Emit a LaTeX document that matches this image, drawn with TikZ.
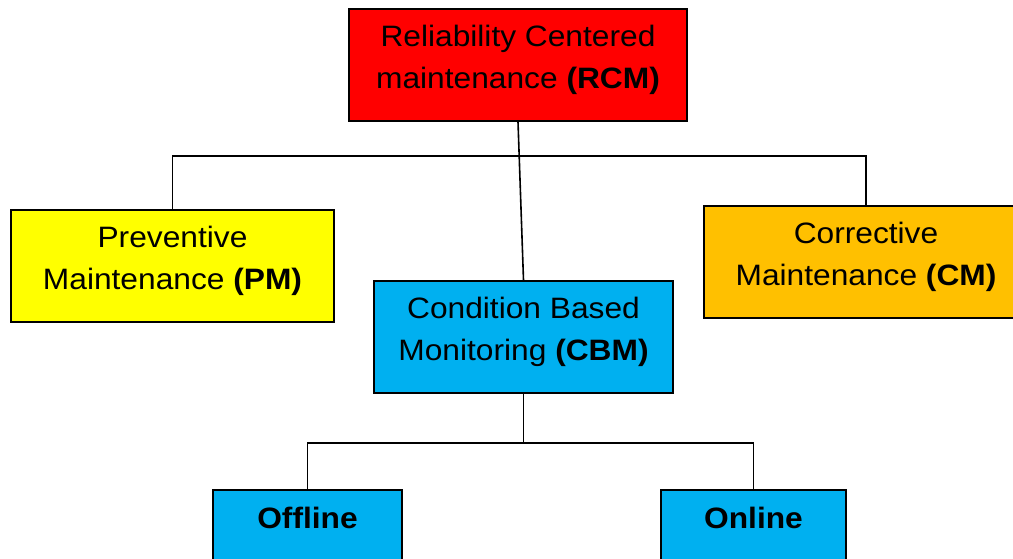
\documentclass[tikz,border=0pt]{standalone}
\usepackage{fontspec}
\setmainfont{Liberation Sans}
\newfontfamily\boxfont[FakeStretch=1.075]{Liberation Sans}
\definecolor{rcmred}{HTML}{FF0000}
\definecolor{pmyellow}{HTML}{FFFF00}
\definecolor{cmorange}{HTML}{FFC000}
\definecolor{cbmblue}{HTML}{00B0F0}
\tikzset{
  boxtext/.style={font=\boxfont\fontsize{29.5}{42}\selectfont},
  boldtext/.style={font=\boxfont\fontsize{29.5}{42}\selectfont\bfseries},
  box/.style={draw=black, line width=1.6pt, rectangle, align=center,
    boxtext, inner sep=0pt, text depth=16pt},
  link/.style={draw=black, line width=1.6pt}
}
\begin{document}
\begin{tikzpicture}[x=1pt, y=-1pt]
  \useasboundingbox (0,0) rectangle (1013,559);

  % top level
  \node[box, fill=rcmred, minimum width=338pt, minimum height=112pt] (rcm) at (518,65)
    {Reliability Centered\\maintenance \textbf{(RCM)}};

  % second level
  \node[box, fill=pmyellow, minimum width=323pt, minimum height=112pt] (pm) at (172.5,266)
    {Preventive\\Maintenance \textbf{(PM)}};
  \node[box, fill=cmorange, minimum width=324pt, minimum height=112pt] (cm) at (866,262)
    {Corrective\\Maintenance \textbf{(CM)}};
  \node[box, fill=cbmblue, minimum width=299pt, minimum height=112pt] (cbm) at (523.5,337)
    {Condition Based\\Monitoring \textbf{(CBM)}};

  % third level
  \node[box, fill=cbmblue, minimum width=189pt, minimum height=112pt, text depth=0pt,
    label={[boldtext, anchor=center, yshift=-29pt]north:Offline}]
    (off) at (307.5,546) {};
  \node[box, fill=cbmblue, minimum width=185pt, minimum height=112pt, text depth=0pt,
    label={[boldtext, anchor=center, yshift=-29pt]north:Online}]
    (on) at (753.5,546) {};

  % bus lines
  \coordinate (bus1) at (0,156);
  \coordinate (bus2) at (0,443);

  \draw[link] (rcm.south) -- (cbm.north);
  \draw[link] (pm.north) -- (pm.north |- bus1) -- (cm.north |- bus1) -- (cm.north);

  \draw[link] (cbm.south) -- (cbm.south |- bus2);
  \draw[link] (off.north) -- (off.north |- bus2) -- (on.north |- bus2) -- (on.north);
\end{tikzpicture}
\end{document}
